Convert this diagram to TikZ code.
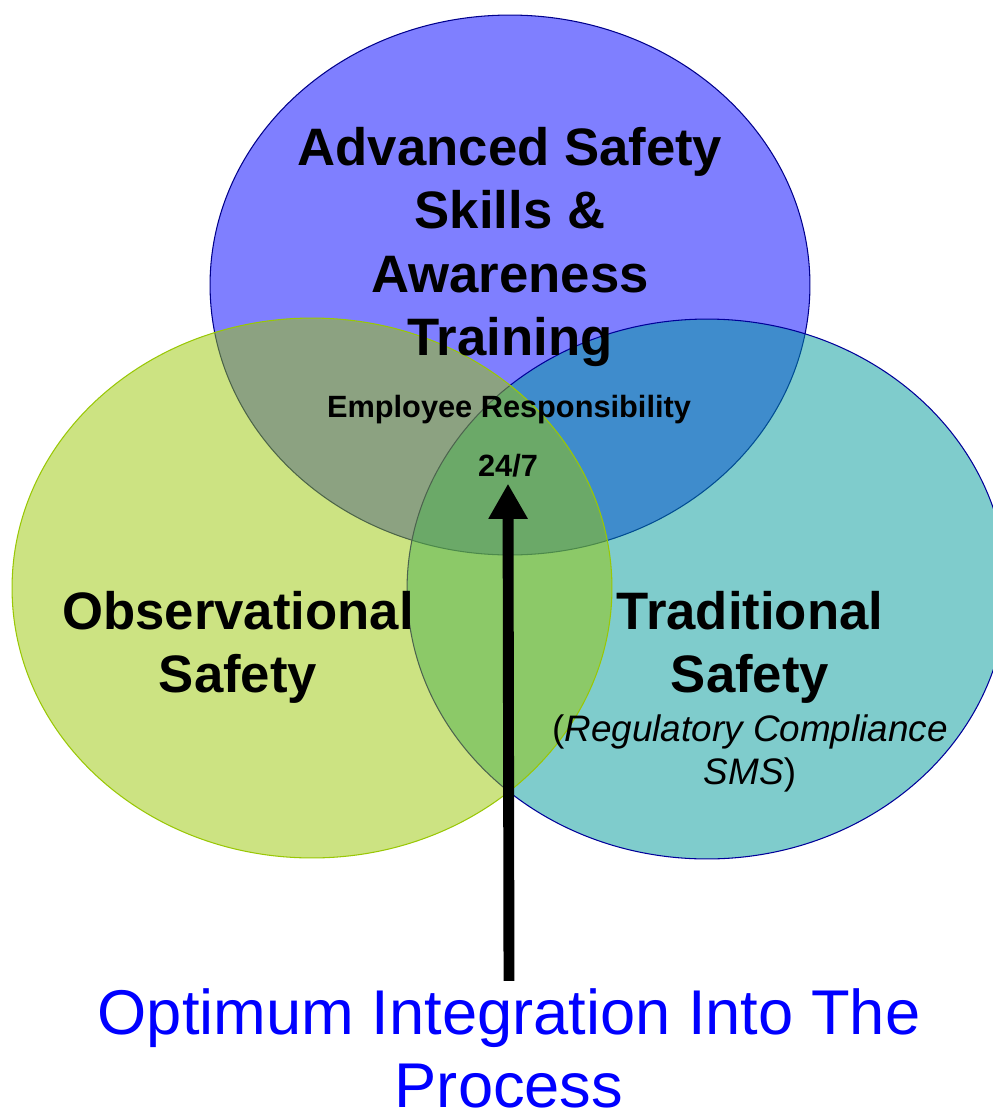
\documentclass[tikz,border=0pt]{standalone}
\usepackage{fontspec}
\setmainfont{Liberation Sans}
\usetikzlibrary{positioning,arrows.meta,shapes.geometric}

\definecolor{ringblue}{RGB}{0,0,255}
\definecolor{ringlime}{RGB}{153,199,5}
\definecolor{ringteal}{RGB}{0,153,153}

\begin{document}
\begin{tikzpicture}[x=0.02cm, y=-0.02cm,
  ring/.style={ellipse, minimum width=12cm, minimum height=10.8cm,
               inner sep=0pt, fill opacity=0.5, line width=0.6pt},
  big/.style={font=\bfseries\fontsize{30}{35.9}\selectfont, align=center},
  small/.style={font=\bfseries\fontsize{17.5}{20}\selectfont},
  note/.style={font=\fontsize{21}{24.5}\selectfont, align=center},
  goal/.style={font=\fontsize{36}{41.5}\selectfont, text=ringblue,
               align=center, inner sep=4pt}]
  \useasboundingbox (0,0) rectangle (993,1119);
  \node[ring, draw=ringblue!55!black, fill=ringblue] (train) at (510,285) {};
  \node[ring, draw=ringblue!60!black, fill=ringteal] (tradit) at (707,589) {};
  \node[ring, draw=ringlime, fill=ringlime] (observ) at (312,588) {};
  \node[big] (trainlab) at (510,247) {Advanced Safety\\Skills \&\\
    Awareness\\Training};
  \node[small] (resp) at (509,410) {Employee Responsibility};
  \node[small] (clock) at (508,466) {24/7};
  \node[big] (observlab) at (238,647) {Observational\\Safety};
  \node[big] (traditlab) at (750,647) {Traditional\\Safety};
  \node[note] (regs) at (750,753) {(\textit{Regulatory Compliance}\\
    \textit{SMS})};
  \node[goal] (proc) at (509,1048) {Optimum Integration Into The\\Process};
  \draw[-{Triangle[length=20pt, width=21pt]}, line width=6.2pt]
    (proc.north) -- (clock.south);
\end{tikzpicture}
\end{document}
